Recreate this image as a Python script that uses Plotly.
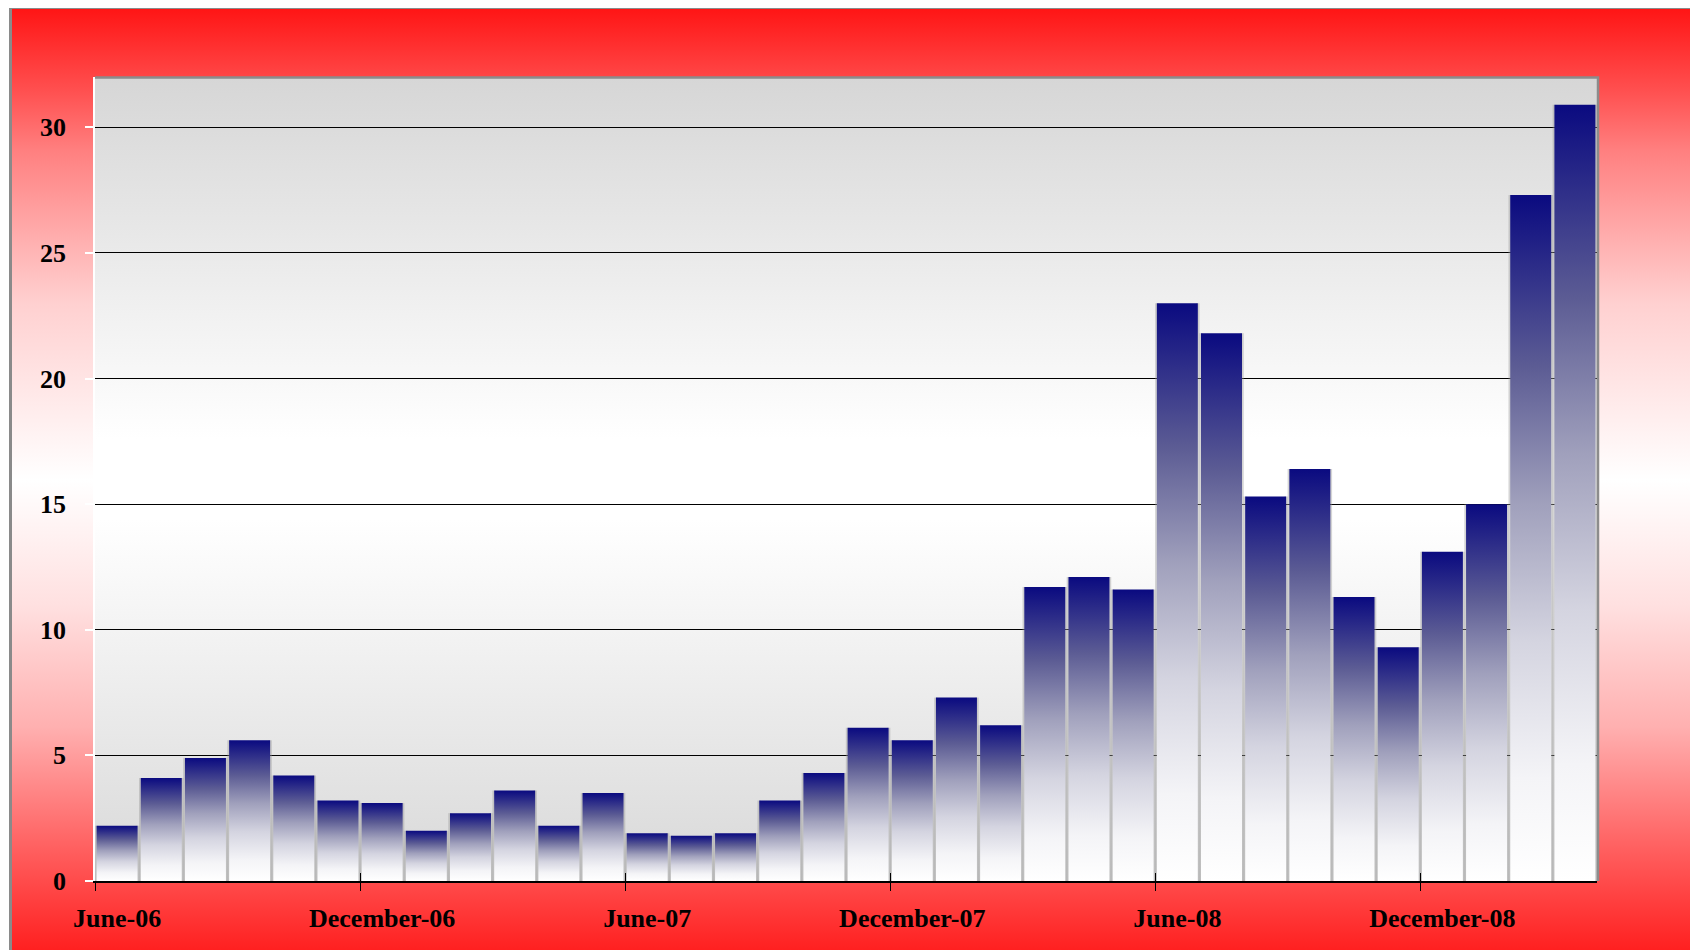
import base64
import plotly.graph_objects as go

# ---------------- data ----------------
categories = [
    "June-06", "July-06", "August-06", "September-06", "October-06", "November-06",
    "December-06", "January-07", "February-07", "March-07", "April-07", "May-07",
    "June-07", "July-07", "August-07", "September-07", "October-07", "November-07",
    "December-07", "January-08", "February-08", "March-08", "April-08", "May-08",
    "June-08", "July-08", "August-08", "September-08", "October-08", "November-08",
    "December-08", "January-09", "February-09", "March-09",
]
values = [
    2.2, 4.1, 4.9, 5.6, 4.2, 3.2,
    3.1, 2.0, 2.7, 3.6, 2.2, 3.5,
    1.9, 1.8, 1.9, 3.2, 4.3, 6.1,
    5.6, 7.3, 6.2, 11.7, 12.1, 11.6,
    23.0, 21.8, 15.3, 16.4, 11.3, 9.3,
    13.1, 15.0, 27.3, 30.9,
]
tick_labels = ["June-06", "December-06", "June-07", "December-07", "June-08", "December-08"]
y_ticks = [0, 5, 10, 15, 20, 25, 30]

# ---------------- geometry / style ----------------
W, H = 1698, 950
ML, MR, MT, MB = 87, 109, 69, 77
PW, PH = W - ML - MR, H - MT - MB
HALF = 0.464          # half bar width in category units
FONT = dict(family="Liberation Serif, Times New Roman, serif", size=26, color="black", weight=700)

bar_scale = [
    [0.0, "#ffffff"], [0.15, "#f4f4f7"], [0.35, "#d4d4e0"],
    [0.55, "#a0a0bc"], [0.75, "#5c5c94"], [1.0, "#0a0a80"],
]

# red frame gradient: (y in figure px, green/blue channel)
FR_Y0, FR_H = -0.5, 960
frame_profile = [(-1, 20), (83, 80), (143, 128), (295, 208), (416, 240), (472, 255),
                 (598, 224), (719, 176), (840, 96), (942, 32), (960, 24)]
frame_stops = "\n".join(
    f'<stop offset="{max(0, min(1, (y - FR_Y0) / FR_H)):.4f}" stop-color="rgb(255,{g},{g})"/>'
    for y, g in frame_profile)

svg = f'''<svg xmlns="http://www.w3.org/2000/svg" width="{W}" height="{H}" viewBox="0 0 {W} {H}">
<defs>
<linearGradient id="r" x1="0" y1="0" x2="0" y2="1">
{frame_stops}
</linearGradient>
<linearGradient id="p" x1="0" y1="0" x2="0" y2="1">
<stop offset="0" stop-color="#d6d6d6"/>
<stop offset="0.45" stop-color="#ffffff"/>
<stop offset="0.55" stop-color="#ffffff"/>
<stop offset="1" stop-color="#d8d8d8"/>
</linearGradient>
</defs>
<rect x="1687" y="1" width="2.5" height="{H}" fill="#c8c8c8"/>
<rect x="2.5" y="{FR_Y0}" width="1683" height="{FR_H}" fill="url(#r)" stroke="#8a8a8a" stroke-width="3"/>
<rect x="{ML}" y="{MT}" width="{PW}" height="{PH}" fill="url(#p)"/>
<path d="M{ML},{MT + 0.5} H{ML + PW + 1} V{MT + PH}" stroke="#8c8c8c" stroke-width="2.5" fill="none"/>
</svg>'''
src = "data:image/svg+xml;base64," + base64.b64encode(svg.encode()).decode()

fig = go.Figure()

# light grey sides between bars (drawn behind bars)
sx, sy = [], []
for i, v in enumerate(values):
    for xx in (i - HALF, i + HALF):
        sx += [xx, xx, None]
        sy += [0, v, None]
fig.add_trace(go.Scatter(x=sx, y=sy, mode="lines", line=dict(color="rgba(150,150,150,0.4)", width=3.5),
                         hoverinfo="skip", showlegend=False, xaxis="x", yaxis="y"))

# gradient bars
for i, (c, v) in enumerate(zip(categories, values)):
    x0, x1 = i - HALF, i + HALF
    fig.add_trace(go.Scatter(
        x=[x0, x0, x1, x1, x0], y=[0, v, v, 0, 0],
        fill="toself", mode="lines", line=dict(width=0),
        fillgradient=dict(type="vertical", colorscale=bar_scale),
        name=c, hovertemplate=f"{c}: {v}<extra></extra>", showlegend=False,
        xaxis="x2", yaxis="y",
    ))

n = len(categories)
tick_pos = [categories.index(t) for t in tick_labels]
bounds = [p - 0.5 for p in tick_pos]

fig.update_layout(
    width=W, height=H,
    margin=dict(l=ML, r=MR, t=MT, b=MB),
    paper_bgcolor="white",
    plot_bgcolor="rgba(0,0,0,0)",
    showlegend=False,
    images=[dict(source=src, xref="paper", yref="paper",
                 x=-ML / PW, y=1 + MT / PH, sizex=W / PW, sizey=H / PH,
                 xanchor="left", yanchor="top", sizing="stretch", layer="below")],
    xaxis=dict(
        range=[-0.5, n - 0.5], showgrid=False, zeroline=False,
        showline=True, linecolor="black", linewidth=2,
        tickmode="array", tickvals=tick_pos, ticktext=tick_labels,
        ticks="outside", ticklen=0, tickfont=FONT, ticklabelstandoff=13,
        minor=dict(tickmode="array", tickvals=bounds, ticks="outside",
                   ticklen=8, tickcolor="black", tickwidth=1, showgrid=False),
    ),
    xaxis2=dict(
        range=[-0.5, n - 0.5], overlaying="x", anchor="y", side="bottom",
        showgrid=False, zeroline=False, showline=False,
        tickmode="array", tickvals=bounds, ticks="inside", ticklen=8,
        tickcolor="black", tickwidth=1, showticklabels=False,
    ),
    yaxis=dict(
        range=[0, 32], tickmode="array", tickvals=y_ticks,
        showgrid=True, gridcolor="black", gridwidth=1, zeroline=False,
        showline=True, linecolor="white", linewidth=1.5,
        ticks="outside", ticklen=8, tickcolor="white", tickwidth=1.5,
        tickfont=FONT, ticklabelstandoff=14,
    ),
)

fig.write_html("out.html")
